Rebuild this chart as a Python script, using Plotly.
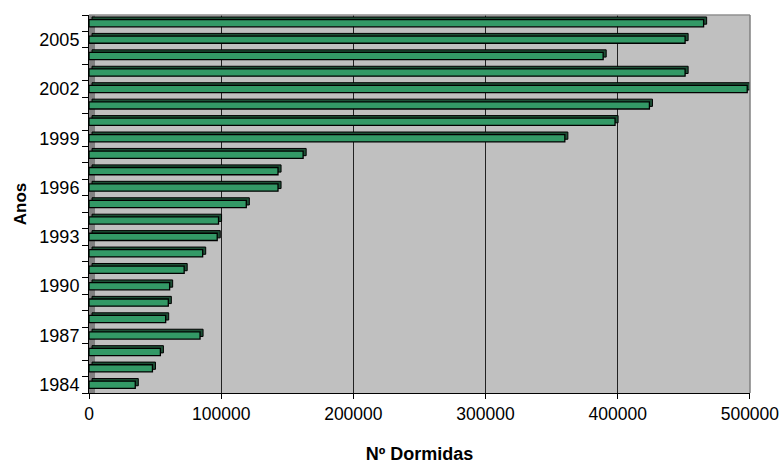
import plotly.graph_objects as go

# Nº de dormidas por ano
anos = list(range(1984, 2007))
dormidas = [35000, 48000, 54000, 84000, 58000, 60000, 61000, 72000, 86000, 97000,
            98000, 119000, 143000, 143000, 162000, 360000, 398000, 424000, 498000,
            451000, 389000, 451000, 465000]
anos_rotulados = [1984, 1987, 1990, 1993, 1996, 1999, 2002, 2005]
x_ticks = [0, 100000, 200000, 300000, 400000, 500000]

VERDE = "#339966"
LADO = "#1d4f35"
FUNDO = "#c0c0c0"
PAREDE = "#808080"

largura = 0.44
prof_y = 0.16      # profundidade (vertical) do efeito 3D, em unidades de categoria
prof_x = 2300      # profundidade (horizontal) do efeito 3D, em unidades de x

fig = go.Figure()

# face lateral/superior das barras (dá o volume)
fig.add_trace(go.Bar(
    y=anos, x=dormidas, base=[prof_x] * len(anos), orientation="h",
    width=largura, offset=-largura / 2 + prof_y,
    marker=dict(color=LADO, line=dict(color="black", width=1)),
    hoverinfo="skip", showlegend=False,
))
# face frontal
fig.add_trace(go.Bar(
    y=anos, x=dormidas, orientation="h",
    width=largura, offset=-largura / 2,
    marker=dict(color=VERDE, line=dict(color="black", width=1.3)),
    name="Dormidas", showlegend=False,
))

# parede lateral esquerda (mais escura) e parede de fundo
fig.add_shape(type="rect", xref="x", yref="paper", x0=0, x1=prof_x * 2,
              y0=0, y1=1, fillcolor=PAREDE, line_width=0, layer="below")
fig.add_shape(type="rect", xref="x", yref="paper", x0=prof_x * 2, x1=500000,
              y0=0, y1=1, fillcolor=FUNDO, line_width=0, layer="below")
# contorno superior e direito da parede
fig.add_shape(type="line", xref="paper", yref="paper", x0=0, x1=1, y0=1, y1=1,
              line=dict(color="#909090", width=1.5))
fig.add_shape(type="line", xref="paper", yref="paper", x0=1, x1=1, y0=0, y1=1,
              line=dict(color="#808080", width=1.5))

fig.update_layout(
    width=779, height=464,
    margin=dict(l=89, r=29, t=15, b=71, autoexpand=False),
    paper_bgcolor="white",
    plot_bgcolor=FUNDO,
    barmode="overlay",
    font=dict(family="Liberation Sans, Arial, sans-serif", size=18, color="black"),
    xaxis=dict(
        range=[0, 500100], tickvals=x_ticks, ticktext=[str(v) for v in x_ticks],
        showgrid=True, gridcolor="#222222", gridwidth=1,
        ticks="outside", ticklen=5, tickcolor="black",
        showline=True, linecolor="black", linewidth=1,
        zeroline=False, mirror=False, automargin=False,
        ticklabeloverflow="allow",
        tickfont=dict(size=17.5),
        title=dict(text="<b>Nº Dormidas</b>", font=dict(size=18), standoff=28),
    ),
    yaxis=dict(
        range=[1983.5, 2006.5], tickvals=anos_rotulados,
        ticktext=[str(a) for a in anos_rotulados],
        ticks="", showgrid=False, zeroline=False, automargin=False,
        showline=True, linecolor="black", linewidth=1,
        tickfont=dict(size=18), ticklabelstandoff=5,
        minor=dict(tickmode="array", tickvals=[a - 0.5 for a in anos] + [2006.5],
                   ticks="outside", ticklen=6, tickcolor="black", showgrid=False),
        title=dict(text="<b>Anos</b>", font=dict(size=17), standoff=8),
    ),
)

fig.write_html("out.html")
